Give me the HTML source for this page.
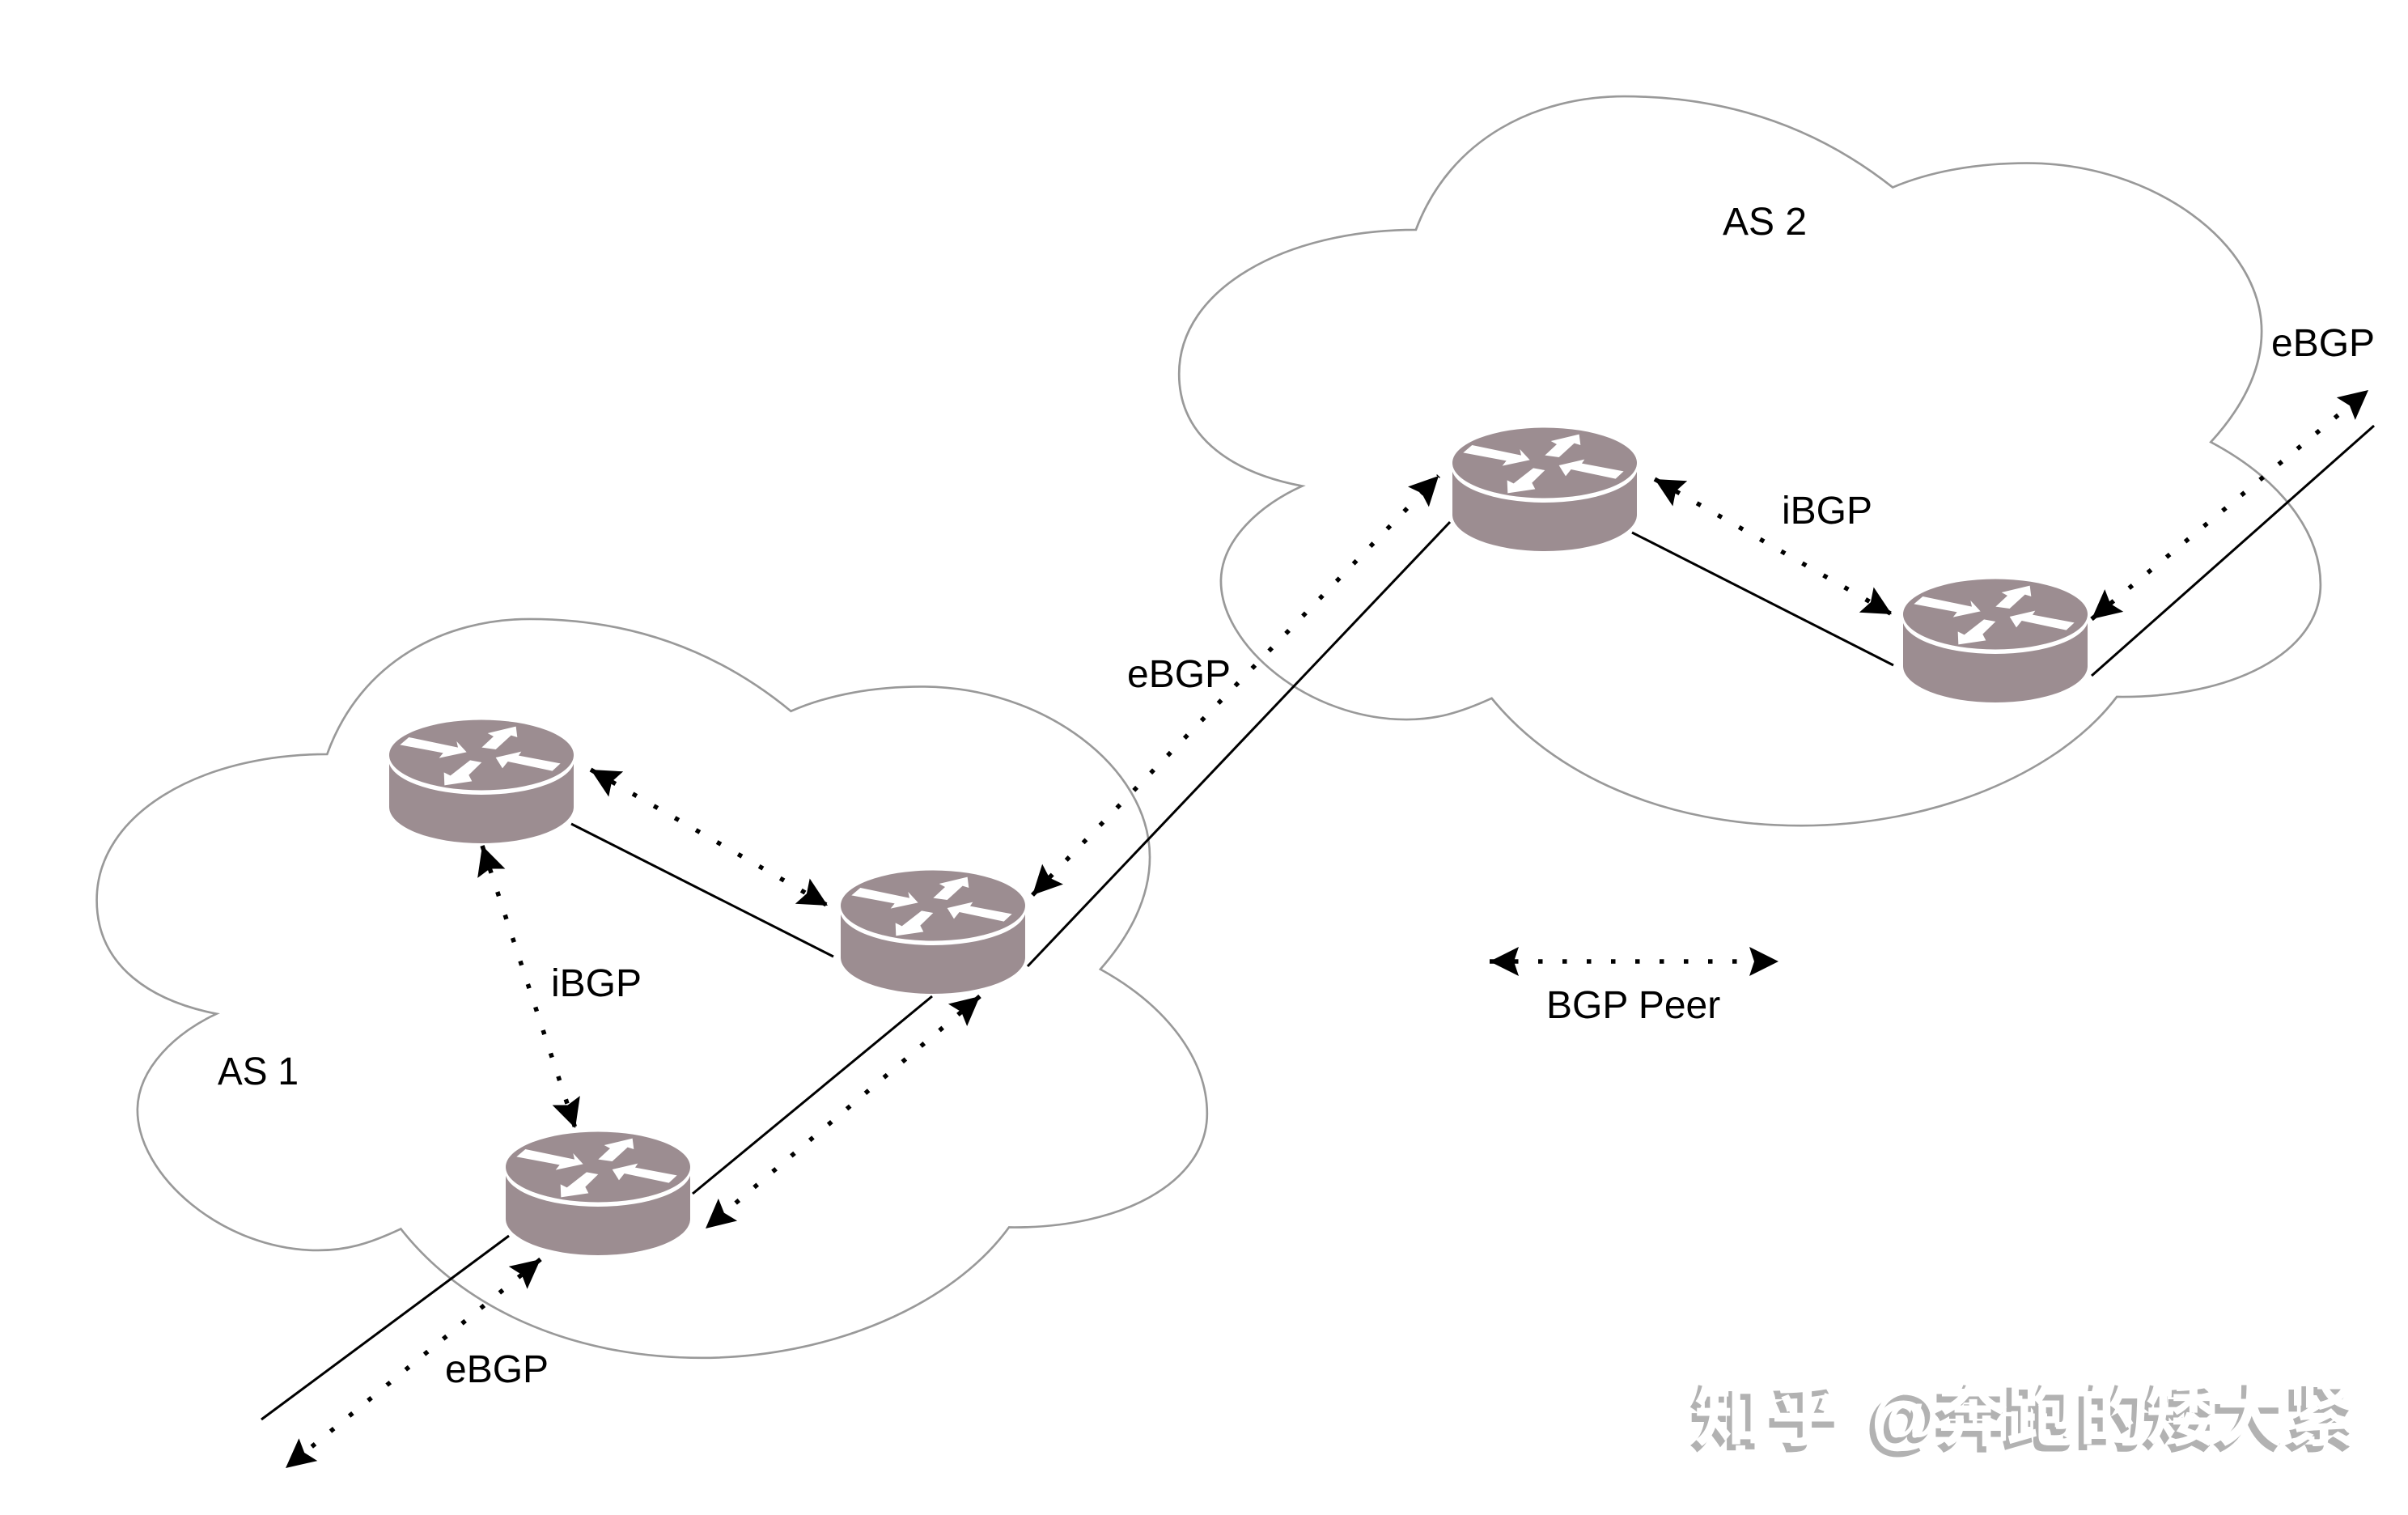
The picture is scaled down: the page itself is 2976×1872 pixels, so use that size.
<!DOCTYPE html>
<html>
<head>
<meta charset="utf-8">
<style>
html,body{margin:0;padding:0;background:#fff;width:2976px;height:1872px;overflow:hidden}
svg{display:block}
text{font-family:"Liberation Sans",sans-serif;font-size:48px;fill:#000}
.wm{font-family:"Liberation Sans","Noto Sans CJK SC",sans-serif;font-size:87px;font-weight:700}
.s{stroke:#000;stroke-width:3;fill:none}
.d{stroke:#000;stroke-width:5.5;fill:none;stroke-dasharray:5.5 24.5;marker-start:url(#ah);marker-end:url(#ah)}
</style>
</head>
<body>
<svg width="2976" height="1872" viewBox="0 0 2976 1872" xmlns="http://www.w3.org/2000/svg">
<defs>
<marker id="ah" markerUnits="userSpaceOnUse" markerWidth="44" markerHeight="44" refX="40" refY="22" orient="auto-start-reverse" viewBox="0 0 44 44">
<path d="M40,22 L4,4 L10,22 L4,40 Z" fill="#000"/>
</marker>
<path id="cloud" d="M213,491 C235,430 290,403 345,403 C420,403 475,430 515,463 C540,452 570,447 600,447 C680,447 748.7,500 748.7,558 C748.7,585 735,610 716.5,631 C760,655 786,690 786,725 C786,770 730,800 657,799 C620,850 540,884 457,884 C370,884 300,850 261,800 C240,810 225,814 207,814 C145,814 89,765 89.5,722 C90,695 115,672 141,660 C100,652 63,630 63,586 C63,530 130,491 213,491 Z"/>
<g id="router">
<path d="M-114,0 V64 A114,45 0 0 0 114,64 V0 Z" fill="#9c8d91"/>
<ellipse cx="0" cy="5" rx="115" ry="44" fill="#fff"/>
<ellipse cx="0" cy="0" rx="114" ry="43.5" fill="#9c8d91"/>
<g transform="translate(-129,-72) scale(0.3333)" fill="#fff">
<path d="M118,150 L300,188 L295,165 L332,205 L230,227 L245,208 L85,178 Z"/>
<path d="M388,188 L432,147 L410,135 L515,110 L520,150 L497,143 L440,195 Z"/>
<path d="M680,247 L525,218 L535,203 L440,225 L465,265 L485,240 L650,275 Z"/>
<path d="M345,235 L388,243 L340,290 L352,313 L250,328 L248,280 L272,292 Z"/>
</g>
</g>
</defs>

<rect width="2976" height="1872" fill="#fff"/>

<!-- clouds -->
<g transform="scale(1.898)">
<use href="#cloud" style="fill:#fff;stroke:#999;stroke-width:1.4"/>
<g transform="translate(703,-335) scale(1.028,0.987)">
<use href="#cloud" style="fill:#fff;stroke:#999;stroke-width:1.4"/>
</g>
</g>

<!-- solid links -->
<line class="s" x1="706" y1="1018" x2="1030" y2="1182"/>
<line class="s" x1="1152" y1="1231" x2="856" y2="1475"/>
<line class="s" x1="629" y1="1527" x2="323" y2="1754"/>
<line class="s" x1="1270" y1="1194" x2="1792" y2="645"/>
<line class="s" x1="2017" y1="658" x2="2340" y2="822"/>
<line class="s" x1="2585" y1="835" x2="2934" y2="526"/>

<!-- dotted peers -->
<line class="d" x1="730" y1="951" x2="1023" y2="1119"/>
<line class="d" x1="596" y1="1045" x2="711" y2="1394"/>
<line class="d" x1="1211" y1="1231" x2="872" y2="1518"/>
<line class="d" x1="1276" y1="1106" x2="1778" y2="588"/>
<line class="d" x1="2045" y1="592" x2="2338" y2="759"/>
<line class="d" x1="2585" y1="765" x2="2927" y2="482"/>
<line class="d" x1="668" y1="1556" x2="353" y2="1814"/>
<line class="d" x1="1841" y1="1188" x2="2198" y2="1188"/>

<!-- routers -->
<use href="#router" x="595" y="933"/>
<use href="#router" x="1153" y="1119"/>
<use href="#router" x="739" y="1442"/>
<use href="#router" x="1909" y="572"/>
<use href="#router" x="2466" y="759"/>

<!-- labels -->
<text x="681" y="1231">iBGP</text>
<text x="1393" y="849">eBGP</text>
<text x="2129" y="290">AS 2</text>
<text x="2807" y="440">eBGP</text>
<text x="2202" y="647">iBGP</text>
<text x="269" y="1340" textLength="100" lengthAdjust="spacingAndGlyphs">AS 1</text>
<text x="550" y="1708">eBGP</text>
<text x="1911" y="1258">BGP Peer</text>

<!-- watermark -->
<text class="wm" y="1786" x="2088 2183 2306 2389 2474 2563 2646 2733 2821" style="fill:#b2b2b2;stroke:#b2b2b2;stroke-width:1">知乎@奔跑的矮大紧</text>
<text class="wm" y="1779" x="2094 2189 2312 2395 2480 2569 2652 2739 2827" style="fill:#fff">知乎@奔跑的矮大紧</text>
</svg>
</body>
</html>
